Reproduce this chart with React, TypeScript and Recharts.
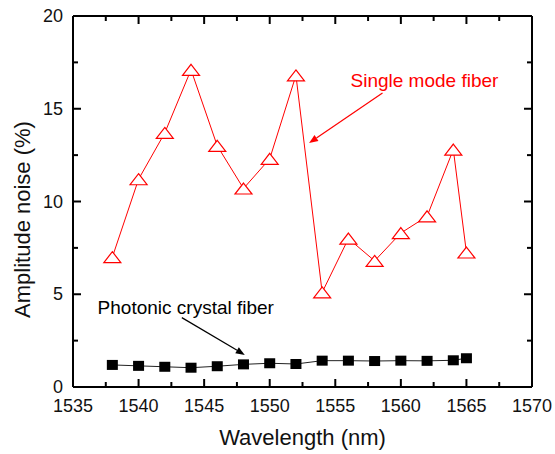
import { LineChart, Line, XAxis, YAxis, ReferenceLine, ReferenceDot } from 'recharts'

// wavelength (nm) and amplitude noise (%)
const wavelengths = [1538, 1540, 1542, 1544, 1546, 1548, 1550, 1552, 1554, 1556, 1558, 1560, 1562, 1564, 1565]
const singleMode = [7.0, 11.2, 13.7, 17.1, 13.0, 10.7, 12.3, 16.8, 5.1, 8.0, 6.8, 8.3, 9.2, 12.8, 7.25]
const photonic = [1.19, 1.14, 1.09, 1.04, 1.12, 1.22, 1.28, 1.24, 1.42, 1.42, 1.4, 1.42, 1.41, 1.44, 1.55]

const xTicks = [1535, 1540, 1545, 1550, 1555, 1560, 1565, 1570]
const xMinor = [1537.5, 1542.5, 1547.5, 1552.5, 1557.5, 1562.5, 1567.5]
const yTicks = [0, 5, 10, 15, 20]
const yMinor = [2.5, 7.5, 12.5, 17.5]

const X_MIN = 1535
const X_MAX = 1570
const Y_MIN = 0
const Y_MAX = 20

const data = wavelengths.map((wl, i) => ({ wl, smf: singleMode[i], pcf: photonic[i] }))

const FONT = "'Liberation Sans', Arial, sans-serif"
const RED = '#ff0000'

const BottomTick = ({ x, y, payload }: any) => (
  <text x={x} y={y + 19} textAnchor="middle" dominantBaseline="central" fontSize={18} fontFamily={FONT} fill="#111">
    {payload.value}
  </text>
)

const LeftTick = ({ x, y, payload }: any) => (
  <text x={x - 10} y={y} textAnchor="end" dominantBaseline="central" fontSize={18} fontFamily={FONT} fill="#111">
    {payload.value}
  </text>
)

// x tick marks along a horizontal edge segment, pointing into the plot (dir: +1 down, -1 up)
const xTickRow = (dir: number) => (props: any) => {
  const { x1, x2, y1 } = props
  const l = Math.min(x1, x2)
  const r = Math.max(x1, x2)
  return (
    <g>
      {[...xTicks, ...xMinor].map((v) => {
        const px = l + ((v - X_MIN) / (X_MAX - X_MIN)) * (r - l)
        const len = xTicks.includes(v) ? 8 : 5
        return <line key={v} x1={px} x2={px} y1={y1} y2={y1 + dir * len} stroke="#000" strokeWidth={2} />
      })}
    </g>
  )
}

// y tick marks at both ends of a full-width segment
const hTicks = (len: number) => (props: any) => {
  const { x1, x2, y1 } = props
  const l = Math.min(x1, x2)
  const r = Math.max(x1, x2)
  return (
    <g>
      <line x1={l} x2={l + len} y1={y1} y2={y1} stroke="#000" strokeWidth={2} />
      <line x1={r} x2={r - len} y1={y1} y2={y1} stroke="#000" strokeWidth={2} />
    </g>
  )
}

const Triangle = ({ cx, cy, index }: any) => (
  <polygon
    key={`t-${index}`}
    points={`${cx},${cy - 5.5} ${cx + 8.5},${cy + 5.5} ${cx - 8.5},${cy + 5.5}`}
    fill="#fff"
    stroke={RED}
    strokeWidth={1.2}
  />
)

const Square = ({ cx, cy, index }: any) => (
  <rect key={`s-${index}`} x={cx - 5.5} y={cy - 5} width={11} height={10} fill="#000" />
)

// arrow drawn from (x1,y1) to (x2,y2) with the head at the end point
const arrow = (color: string) => (props: any) => {
  const { x1, y1, x2, y2 } = props
  const a = Math.atan2(y2 - y1, x2 - x1)
  const len = 9
  const w = 3.5
  const bx = x2 - len * Math.cos(a)
  const by = y2 - len * Math.sin(a)
  const p1 = `${bx + w * Math.sin(a)},${by - w * Math.cos(a)}`
  const p2 = `${bx - w * Math.sin(a)},${by + w * Math.cos(a)}`
  return (
    <g>
      <line x1={x1} y1={y1} x2={bx} y2={by} stroke={color} strokeWidth={1.2} />
      <polygon points={`${x2},${y2} ${p1} ${p2}`} fill={color} />
    </g>
  )
}

const label = (text: string, color: string) => (props: any) => (
  <text x={props.cx} y={props.cy} textAnchor="middle" dominantBaseline="central" fontSize={19} fontFamily={FONT} fill={color}>
    {text}
  </text>
)

const frame = { stroke: '#000', strokeWidth: 2, ifOverflow: 'extendDomain' as const }

export default function App() {
  return (
    <div style={{ position: 'absolute', left: 0, top: 0, width: 555, height: 454, background: '#fff' }}>
      <LineChart width={555} height={454} data={data} margin={{ top: 16, right: 23, bottom: 0, left: 0 }}>
        <XAxis
          dataKey="wl"
          type="number"
          domain={[X_MIN, X_MAX]}
          ticks={xTicks}
          interval={0}
          height={67}
          tickSize={0}
          tickMargin={0}
          tickLine={false}
          tick={BottomTick}
          axisLine={false}
          label={{
            content: ({ viewBox }: any) => (
              <text
                x={viewBox.x + viewBox.width / 2}
                y={viewBox.y + 50}
                textAnchor="middle"
                dominantBaseline="central"
                fontSize={22}
                fontFamily={FONT}
                fill="#111"
              >
                Wavelength (nm)
              </text>
            ),
          }}
        />
        <YAxis
          type="number"
          domain={[Y_MIN, Y_MAX]}
          ticks={yTicks}
          interval={0}
          width={73}
          tickSize={0}
          tickMargin={0}
          tickLine={false}
          tick={LeftTick}
          axisLine={false}
          label={{
            content: ({ viewBox }: any) => {
              const cx = 22
              const cy = viewBox.y + viewBox.height / 2 + 18
              return (
                <text
                  x={cx}
                  y={cy}
                  transform={`rotate(-90 ${cx} ${cy})`}
                  textAnchor="middle"
                  dominantBaseline="central"
                  fontSize={22}
                  fontFamily={FONT}
                  fill="#111"
                >
                  Amplitude noise (%)
                </text>
              )
            },
          }}
        />
        {/* tick marks, inward on all four sides */}
        <ReferenceLine
          segment={[{ x: X_MIN, y: Y_MIN }, { x: X_MAX, y: Y_MIN }]}
          ifOverflow="visible"
          shape={xTickRow(-1)}
        />
        <ReferenceLine
          segment={[{ x: X_MIN, y: Y_MAX }, { x: X_MAX, y: Y_MAX }]}
          ifOverflow="visible"
          shape={xTickRow(1)}
        />
        {[...yTicks, ...yMinor].map((v) => (
          <ReferenceLine
            key={`yt-${v}`}
            segment={[{ x: X_MIN, y: v }, { x: X_MAX, y: v }]}
            ifOverflow="visible"
            shape={hTicks(yTicks.includes(v) ? 8 : 5)}
          />
        ))}
        {/* plot frame */}
        <ReferenceLine x={X_MIN} {...frame} />
        <ReferenceLine x={X_MAX} {...frame} />
        <ReferenceLine y={Y_MIN} {...frame} />
        <ReferenceLine y={Y_MAX} {...frame} />
        <Line
          dataKey="smf"
          type="linear"
          stroke={RED}
          strokeWidth={1}
          dot={Triangle}
          activeDot={false}
          isAnimationActive={false}
        />
        <Line
          dataKey="pcf"
          type="linear"
          stroke="#222"
          strokeWidth={1}
          dot={Square}
          activeDot={false}
          isAnimationActive={false}
        />
        <ReferenceLine
          segment={[{ x: 1558.6, y: 15.85 }, { x: 1553.0, y: 13.15 }]}
          shape={arrow(RED)}
        />
        <ReferenceLine
          segment={[{ x: 1543.3, y: 3.74 }, { x: 1548.1, y: 1.73 }]}
          shape={arrow('#000')}
        />
        <ReferenceDot x={1561.8} y={16.5} r={0} shape={label('Single mode fiber', RED)} />
        <ReferenceDot x={1543.6} y={4.26} r={0} shape={label('Photonic crystal fiber', '#000')} />
      </LineChart>
    </div>
  )
}
